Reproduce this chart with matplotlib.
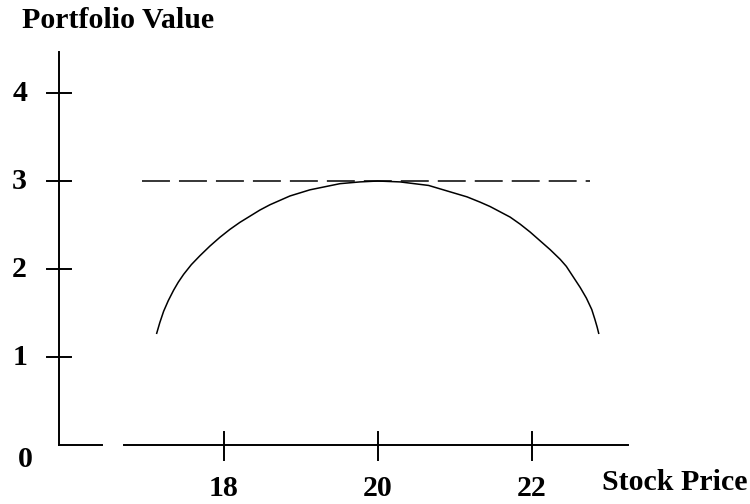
import matplotlib
matplotlib.use("Agg")
import matplotlib.pyplot as plt

# curve
stock_price = [17.13, 17.17, 17.22, 17.28, 17.35, 17.41, 17.48, 17.58, 17.69, 17.82,
               17.95, 18.08, 18.21, 18.34, 18.47, 18.60, 18.86, 19.12, 19.51, 19.77,
               20.00, 20.29, 20.66, 21.16, 21.33, 21.46, 21.59, 21.72, 21.85, 21.98,
               22.11, 22.24, 22.37, 22.45, 22.54, 22.63, 22.71, 22.78, 22.82, 22.85,
               22.87]
portfolio_value = [1.27, 1.39, 1.52, 1.64, 1.76, 1.85, 1.94, 2.05, 2.15, 2.26,
                   2.36, 2.45, 2.53, 2.60, 2.67, 2.73, 2.83, 2.90, 2.97, 2.99,
                   3.00, 2.99, 2.95, 2.82, 2.76, 2.71, 2.65, 2.59, 2.51, 2.42,
                   2.32, 2.22, 2.11, 2.03, 1.91, 1.79, 1.67, 1.54, 1.43, 1.34,
                   1.27]

# horizontal dashed level
level_x = [16.94, 22.76]
level_y = [3, 3]

x_ticks = [18, 20, 22]
y_ticks = [1, 2, 3, 4]

# axis geometry (in data units)
y_axis_x = 15.86
y_axis_top = 4.47
x_axis_pieces = [(15.86, 16.42), (16.71, 23.25)]

fig = plt.figure(figsize=(7.5, 5.04), dpi=100)
ax = fig.add_axes([0, 0, 1, 1])
ax.set_xlim(15.095, 24.835)
ax.set_ylim(-0.670, 5.057)
ax.axis("off")

font = dict(family="Liberation Serif", fontweight="bold", fontsize=21.5, color="black")
lw_axis = 1.4

# axes drawn by hand, with the gap in the x axis
ax.plot([y_axis_x, y_axis_x], [0, y_axis_top], color="black", lw=lw_axis)
for x0, x1 in x_axis_pieces:
    ax.plot([x0, x1], [0, 0], color="black", lw=lw_axis)

# plus shaped ticks
for v in y_ticks:
    ax.plot([y_axis_x - 0.15, y_axis_x + 0.16], [v, v], color="black", lw=lw_axis)
    ax.text(15.35, v, str(v), ha="center", va="center", **font)
for v in x_ticks:
    ax.plot([v, v], [-0.17, 0.15], color="black", lw=lw_axis)
    ax.text(v, -0.49, str(v), ha="center", va="center", **font)
ax.text(15.43, -0.17, "0", ha="center", va="center", **font)

# curve and dashed line
ax.plot(stock_price, portfolio_value, color="black", lw=1.1)
ax.plot(level_x, level_y, color="black", lw=1.1, linestyle=(0, (18.3, 5.9)))

ax.text(15.38, 4.739, "Portfolio Value", ha="left", va="baseline", **font)
ax.text(22.91, -0.511, "Stock Price", ha="left", va="baseline", **font)

fig.savefig("out.png", dpi=100)
